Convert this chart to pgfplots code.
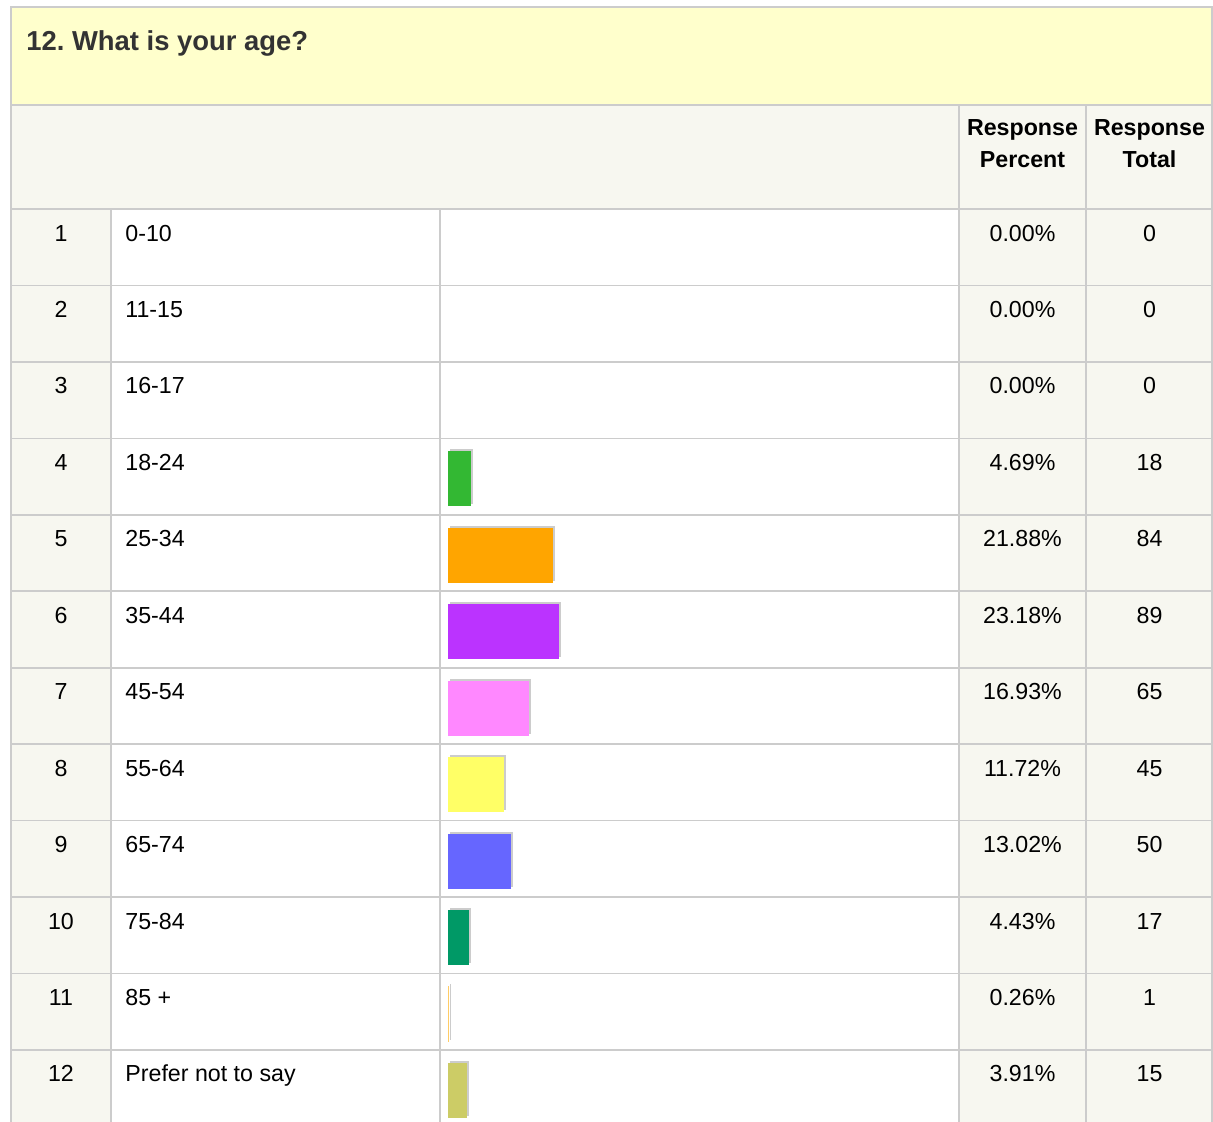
\documentclass[border=0pt]{standalone}
\usepackage{fontspec}
\setmainfont{Liberation Sans}
\usepackage{pgfplots}
\pgfplotsset{compat=1.18}
\definecolor{gridc}{HTML}{CCCCCC}
\definecolor{headbg}{HTML}{FFFFCC}
\definecolor{cellbg}{HTML}{F7F7F0}
\definecolor{titlec}{HTML}{333333}
\definecolor{bA}{HTML}{33B833}
\definecolor{bB}{HTML}{FFA500}
\definecolor{bC}{HTML}{BB33FF}
\definecolor{bD}{HTML}{FF88FF}
\definecolor{bE}{HTML}{FFFF66}
\definecolor{bF}{HTML}{6666FF}
\definecolor{bG}{HTML}{009966}
\definecolor{bH}{HTML}{FFCC66}
\definecolor{bI}{HTML}{CCCC66}
\newcommand\bodyfont{\fontsize{11.6}{14}\selectfont}
\frenchspacing

\begin{document}
\begin{tikzpicture}[x=0.5pt,y=-0.5pt]
\useasboundingbox (0,0) rectangle (1213,1121);
\fill[white] (0,0) rectangle (1213,1121);
% cell backgrounds
\fill[headbg] (11,7) rectangle (1212,105);
\fill[cellbg] (11,105) rectangle (1212,209);
\fill[cellbg] (11,209) rectangle (111,1130);
\fill[cellbg] (959,209) rectangle (1212,1130);
% grid
\begin{scope}[gridc, line width=1pt]
\draw (11,7) -- (1212,7);
\draw (11,105) -- (1212,105);
\draw (11,6) -- (11,1130);
\draw (1211.5,6) -- (1211.5,1130);
\draw (959,105) -- (959,1130);
\draw (1086,105) -- (1086,1130);
\draw (111,209) -- (111,1130);
\draw (440,209) -- (440,1130);
\foreach \r in {0,...,11} \draw[line width=0.8pt] (11,{209+76.45*\r}) -- (1212,{209+76.45*\r});
\end{scope}

% bars: response percent per row (row index on y)
\begin{axis}[
  at={(224pt,-104.5pt)}, anchor=north west,
  scale only axis, hide axis, clip=false,
  width=255.5pt, height=456pt,
  xmin=0, xmax=106.46,
  ymin=0.47, ymax=12.40, y dir=reverse,
  xbar, bar shift=0pt, bar width=0.72,
  every axis plot/.append style={draw=none,
    preaction={fill=gridc, transform canvas={shift={(1pt,1pt)}}}},
]
\addplot[fill=bA] coordinates {(4.69,4)};
\addplot[fill=bB] coordinates {(21.88,5)};
\addplot[fill=bC] coordinates {(23.18,6)};
\addplot[fill=bD] coordinates {(16.93,7)};
\addplot[fill=bE] coordinates {(11.72,8)};
\addplot[fill=bF] coordinates {(13.02,9)};
\addplot[fill=bG] coordinates {(4.43,10)};
\addplot[fill=bH] coordinates {(0.26,11)};
\addplot[fill=bI] coordinates {(3.91,12)};
\end{axis}

% texts
\node[anchor=base west, inner sep=0pt, text=titlec,
  font=\fontsize{13.7}{16}\selectfont\bfseries] at (26,50) {12. What is your age?};
\node[anchor=base, inner sep=0pt, font=\bodyfont\bfseries] at (1022.5,135) {Response};
\node[anchor=base, inner sep=0pt, font=\bodyfont\bfseries] at (1022.5,167) {Percent};
\node[anchor=base, inner sep=0pt, font=\bodyfont\bfseries] at (1149.5,135) {Response};
\node[anchor=base, inner sep=0pt, font=\bodyfont\bfseries] at (1149.5,167) {Total};
\foreach \i/\lab/\pc/\tot in {1/0-10/0.00/0, 2/11-15/0.00/0, 3/16-17/0.00/0,
  4/18-24/4.69/18, 5/25-34/21.88/84, 6/35-44/23.18/89, 7/45-54/16.93/65,
  8/55-64/11.72/45, 9/65-74/13.02/50, 10/75-84/4.43/17, 11/85 +/0.26/1,
  12/Prefer not to say/3.91/15} {
  \pgfmathsetmacro\yb{209+76.45*(\i-1)+32}
  \node[anchor=base, inner sep=0pt, font=\bodyfont] at (61,\yb) {\i};
  \node[anchor=base west, inner sep=0pt, font=\bodyfont] at (125,\yb) {\lab};
  \node[anchor=base, inner sep=0pt, font=\bodyfont] at (1022.5,\yb) {\pc\%};
  \node[anchor=base, inner sep=0pt, font=\bodyfont] at (1149.5,\yb) {\tot};
}
\end{tikzpicture}
\end{document}
